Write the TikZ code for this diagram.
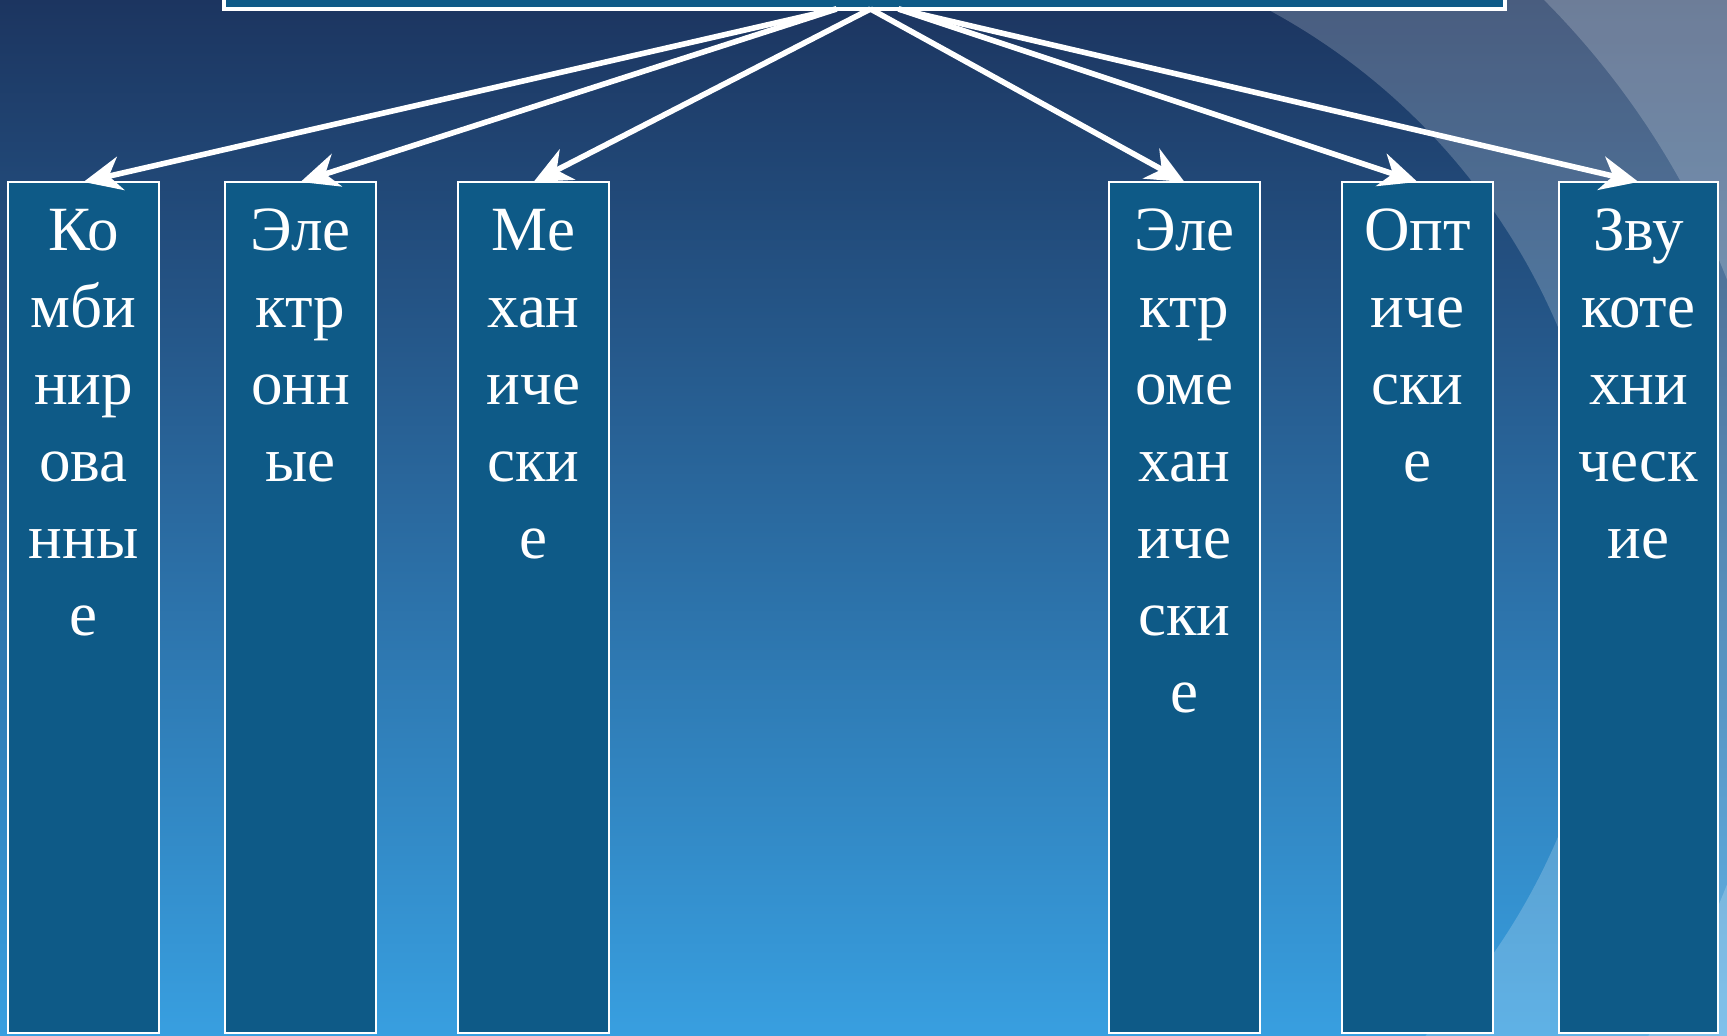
\documentclass[tikz,border=0pt]{standalone}
\usepackage{fontspec}
\setmainfont{Liberation Serif}
\usepackage{xcolor}
\definecolor{SkyTop}{HTML}{1C3560}
\definecolor{SkyBottom}{HTML}{389FE0}
\definecolor{BoxBlue}{HTML}{0E5A87}
\usepackage{tikz}
\usetikzlibrary{arrows.meta,positioning}
\tikzset{
  colbox/.style={draw=white, line width=1pt, fill=BoxBlue, inner sep=0pt, outer sep=0pt,
                 minimum width=75.5pt, minimum height=425.5pt, anchor=north west},
  coltxt/.style={text=white, align=center, text width=75pt, inner sep=0pt, anchor=base,
                 font=\fontsize{31.5}{38.5}\selectfont},
  topbox/.style={draw=white, line width=2pt, fill=BoxBlue, inner sep=0pt, outer sep=0pt,
                 minimum width=640.5pt, minimum height=36.5pt},
  fanarr/.style={-{Stealth[length=19pt, width=17pt, inset=6pt]}, line width=2.8pt, white},
  glow/.style={fill=white, opacity=0.2}
}

\begin{document}
\begin{tikzpicture}[x=0.5pt, y=0.5pt]
\useasboundingbox (0,0) rectangle (1727,1036);
\clip (0,0) rectangle (1727,1036);
% background
\shade[top color=SkyTop, bottom color=SkyBottom] (0,0) rectangle (1727,1036);
% light rings on the right
\fill[glow] (1249.4,1036) arc[start angle=63.57, end angle=-44.30, radius=650]
  -- (1727,0) -- (1727,1036) -- cycle;
\fill[glow] (1544,1036) arc[start angle=44.90, end angle=21.52, radius=824.5]
  -- (1727,1036) -- cycle;
\fill[glow] (1727,151.5) arc[start angle=-21.52, end angle=-33.39, radius=824.5]
  -- (1727,0) -- cycle;

% top box (cut off)
\node[topbox] (top) at (864.5,1063.5) {};
\coordinate (hubL) at ([xshift=-14pt]top.south);
\coordinate (hubC) at ([xshift=3pt]top.south);
\coordinate (hubR) at ([xshift=17pt]top.south);

% columns
\node[colbox] (comb) at (8,854) {};
\node[colbox] (elec) at (225,854) {};
\node[colbox] (mech) at (458,854) {};
\node[colbox] (elmech) at (1109,854) {};
\node[colbox] (opt) at (1342,854) {};
\node[colbox, minimum width=79.5pt] (sound) at (1559,854) {};

\node[coltxt] (comb-t) at ([yshift=-34.5pt]comb.north) {Ко\\мби\\нир\\ова\\нны\\е};
\node[coltxt] (elec-t) at ([yshift=-34.5pt]elec.north) {Эле\\ктр\\онн\\ые};
\node[coltxt] (mech-t) at ([yshift=-34.5pt]mech.north) {Ме\\хан\\иче\\ски\\е};
\node[coltxt] (elmech-t) at ([yshift=-34.5pt]elmech.north) {Эле\\ктр\\оме\\хан\\иче\\ски\\е};
\node[coltxt] (opt-t) at ([yshift=-34.5pt]opt.north) {Опт\\иче\\ски\\е};
\node[coltxt] (sound-t) at ([yshift=-34.5pt]sound.north) {Зву\\коте\\хни\\ческ\\ие};

% fan of arrows
\draw[fanarr] (hubL) -- (comb.north);
\draw[fanarr] (hubL) -- (elec.north);
\draw[fanarr] (hubC) -- (mech.north);
\draw[fanarr] (hubC) -- (elmech.north);
\draw[fanarr] (hubR) -- (opt.north);
\draw[fanarr] (hubR) -- (sound.north);
\end{tikzpicture}
\end{document}
